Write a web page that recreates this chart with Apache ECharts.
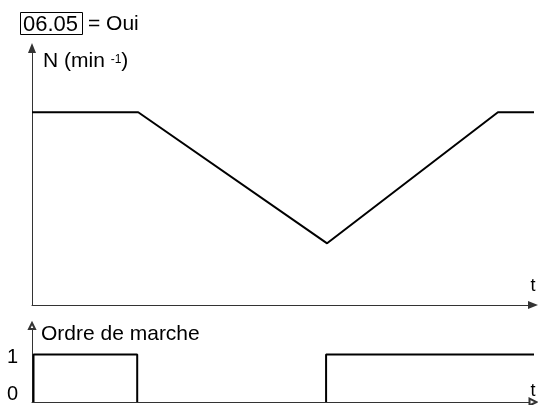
<!DOCTYPE html>
<html>
<head>
<meta charset="utf-8">
<script src="https://cdn.jsdelivr.net/npm/echarts@6/dist/echarts.min.js"></script>
<style>
  html, body { margin: 0; padding: 0; background: #fff; }
  #chart { width: 538px; height: 405px; }
</style>
</head>
<body>
<div id="chart"></div>
<script>
// speed profile (top)
const speedTimes = [0, 21.2, 58.9, 93, 100.6];
const speedValues = [75, 75, 24, 75, 75];
// run command (bottom), null = no pen along the time axis
const runTimes = [0.3, 0.3, 21, 21, 40, 58.7, 58.7, 100.6];
const runValues = [0, 1, 1, 0, null, 0, 1, 1];
const runLevels = [0, 1];
const runLabels = ["0", "1"];

const font = "'Liberation Sans', Arial, sans-serif";
const axisColor = "#333";

const chart = echarts.init(document.getElementById("chart"));

function zip(xs, ys) {
  return xs.map((x, i) => [x, ys[i] === null ? "-" : ys[i]]);
}

const hiddenBits = {
  axisTick: { show: false },
  splitLine: { show: false },
};

chart.setOption({
  animation: false,
  backgroundColor: "#fff",
  grid: [
    { left: 32, right: 5, top: 48, bottom: 100 },
    { left: 32, right: 5, top: 326, bottom: 3 },
  ],
  xAxis: [
    {
      gridIndex: 0,
      type: "value",
      min: 0,
      max: 100,
      axisLabel: { show: false },
      axisLine: {
        symbol: ["none", "triangle"],
        symbolSize: [8, 10],
        lineStyle: { color: axisColor, width: 1 },
      },
      ...hiddenBits,
    },
    {
      gridIndex: 1,
      type: "value",
      min: 0,
      max: 100,
      axisLabel: { show: false },
      axisLine: {
        symbol: ["none", "emptyTriangle"],
        symbolSize: [7, 7],
        lineStyle: { color: axisColor, width: 1 },
      },
      ...hiddenBits,
    },
  ],
  yAxis: [
    {
      gridIndex: 0,
      type: "value",
      min: 0,
      max: 100,
      axisLabel: { show: false },
      axisLine: {
        show: true,
        symbol: ["none", "triangle"],
        symbolSize: [8, 10],
        lineStyle: { color: axisColor, width: 1 },
      },
      ...hiddenBits,
    },
    {
      gridIndex: 1,
      type: "value",
      min: 0,
      max: 1.6,
      axisLabel: {
        show: true,
        customValues: runLevels,
        margin: 14,
        formatter: (v) => (v === 0 ? "{z|" : "{o|") + runLabels[runLevels.indexOf(v)] + "}",
        rich: {
          z: { fontFamily: font, fontSize: 20, color: "#000", padding: [0, 0, 16, 0] },
          o: { fontFamily: font, fontSize: 20, color: "#000", padding: [6, 0, 0, 0] },
        },
      },
      axisLine: {
        show: true,
        symbol: ["none", "emptyTriangle"],
        symbolSize: [6, 6],
        lineStyle: { color: axisColor, width: 1 },
      },
      ...hiddenBits,
    },
  ],
  series: [
    {
      type: "line",
      xAxisIndex: 0,
      yAxisIndex: 0,
      data: zip(speedTimes, speedValues),
      symbol: "none",
      clip: false,
      lineStyle: { color: "#000", width: 2 },
    },
    {
      type: "line",
      xAxisIndex: 1,
      yAxisIndex: 1,
      data: zip(runTimes, runValues),
      symbol: "none",
      clip: false,
      connectNulls: false,
      lineStyle: { color: "#000", width: 2 },
    },
  ],
  graphic: [
    {
      type: "rect",
      shape: { x: 20.5, y: 12.5, width: 62, height: 22 },
      style: { fill: "none", stroke: "#000", lineWidth: 1 },
    },
    {
      type: "text",
      x: 23,
      y: 24.5,
      style: { text: "06.05", font: "22px " + font, fill: "#000", verticalAlign: "middle" },
    },
    {
      type: "text",
      x: 88,
      y: 24.5,
      style: { text: "= Oui", font: "21px " + font, fill: "#000", verticalAlign: "middle" },
    },
    {
      type: "text",
      x: 43,
      y: 61,
      style: {
        text: "{a|N (min }{s|-1}{a|)}",
        verticalAlign: "middle",
        rich: {
          a: { fontFamily: font, fontSize: 21, color: "#000" },
          s: { fontFamily: font, fontSize: 12, color: "#000", verticalAlign: "top", padding: [3, 0, 0, 0] },
        },
      },
    },
    {
      type: "text",
      x: 41,
      y: 334.5,
      style: { text: "Ordre de marche", font: "21px " + font, fill: "#000", verticalAlign: "middle" },
    },
    {
      type: "text",
      x: 533,
      y: 286,
      style: { text: "t", font: "18px " + font, fill: "#000", align: "center", verticalAlign: "middle" },
    },
    {
      type: "text",
      x: 533,
      y: 391,
      style: { text: "t", font: "18px " + font, fill: "#000", align: "center", verticalAlign: "middle" },
    },
  ],
});
</script>
</body>
</html>
